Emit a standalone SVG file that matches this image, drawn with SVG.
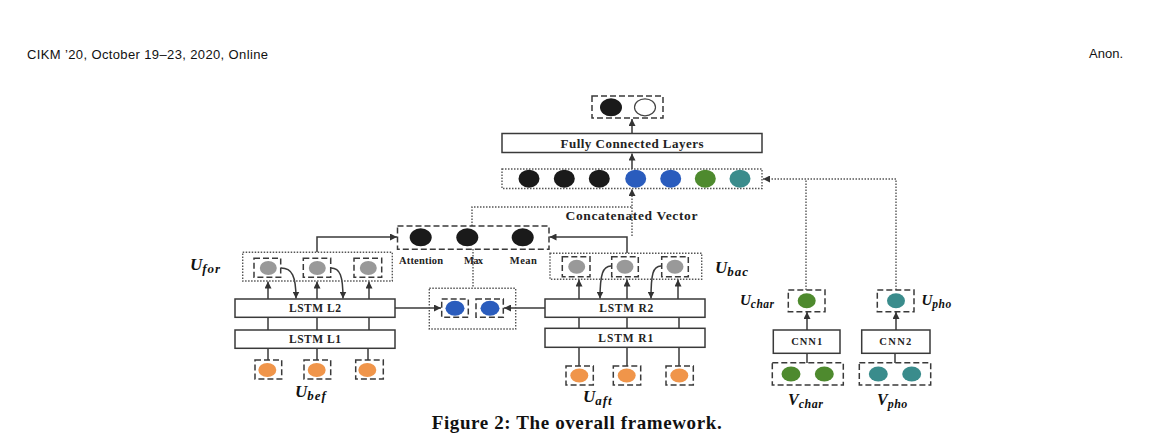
<svg xmlns="http://www.w3.org/2000/svg" width="1159" height="448" viewBox="0 0 1159 448">
<style>
.box{fill:#fff;stroke:#3a3a3a;stroke-width:1.5}
.dash{fill:none;stroke:#3a3a3a;stroke-width:1.5;stroke-dasharray:6 3}
.dot{fill:none;stroke:#555;stroke-width:1.4;stroke-dasharray:1.5 1.5}
.ln{fill:none;stroke:#3a3a3a;stroke-width:1.5}
.lbl{font-family:"Liberation Serif",serif;font-weight:bold;fill:#222;text-anchor:middle}
.math{font-family:"Liberation Serif",serif;font-style:italic;font-weight:bold;fill:#111}
.blk{fill:#1a1a1a}.gry{fill:#999}.org{fill:#f0954a}.blu{fill:#2a5cbd}.grn{fill:#4e8a2e}.tea{fill:#3a8c8c}
</style>
<defs>
<marker id="ah" viewBox="0 0 10 10" refX="10" refY="5" markerWidth="7" markerHeight="7" markerUnits="userSpaceOnUse" orient="auto">
<path d="M0,0 L10,5 L0,10 z" fill="#333"/>
</marker>
</defs>
<rect width="1159" height="448" fill="#fff"/>
<text x="27" y="58.5" font-family="Liberation Sans,sans-serif" font-size="13" textLength="241" fill="#111">CIKM ’20, October 19–23, 2020, Online</text>
<text x="1123" y="58" font-family="Liberation Sans,sans-serif" font-size="13" text-anchor="end" fill="#111">Anon.</text>

<g id="connectors">
<line class="ln" x1="632" y1="133" x2="632" y2="119" marker-end="url(#ah)"/>
<line class="ln" x1="632" y1="169" x2="632" y2="153.5" marker-end="url(#ah)"/>
<path class="dot" d="M472,226 V207 H632"/>
<path class="dot" d="M632,236 V189" marker-end="url(#ah)"/>
<path class="ln" d="M317,252 V237 H397" marker-end="url(#ah)"/>
<path class="ln" d="M627,253 V237 H549.5" marker-end="url(#ah)"/>
<line class="dot" x1="473" y1="249" x2="473" y2="288"/>
<line class="ln" x1="395" y1="308" x2="441" y2="308" marker-end="url(#ah)"/>
<line class="ln" x1="545" y1="308" x2="504" y2="308" marker-end="url(#ah)"/>
<line class="ln" x1="268" y1="299" x2="268" y2="281.5" marker-end="url(#ah)"/>
<line class="ln" x1="317" y1="299" x2="317" y2="281.5" marker-end="url(#ah)"/>
<line class="ln" x1="369" y1="299" x2="369" y2="281.5" marker-end="url(#ah)"/>
<path class="ln" d="M281,268 C292,268 296,276 296,298.5" marker-end="url(#ah)"/>
<path class="ln" d="M331,268 C340,268 343,276 343,298.5" marker-end="url(#ah)"/>
<path class="ln" d="M268,317 V330 M317,317 V330 M369,317 V330"/>
<path class="ln" d="M268,348 V360 M317,348 V360 M368,348 V360"/>
<line class="ln" x1="579" y1="299" x2="579" y2="279.5" marker-end="url(#ah)"/>
<line class="ln" x1="627" y1="299" x2="627" y2="279.5" marker-end="url(#ah)"/>
<line class="ln" x1="678" y1="299" x2="678" y2="279.5" marker-end="url(#ah)"/>
<path class="ln" d="M611,266 C603,266 600,274 600,298.5" marker-end="url(#ah)"/>
<path class="ln" d="M661,266 C653,266 651,274 651,298.5" marker-end="url(#ah)"/>
<path class="ln" d="M579,317 V328 M627,317 V328 M679,317 V328"/>
<path class="ln" d="M579,347 V366 M627,347 V366 M679,347 V366"/>
<line class="ln" x1="807" y1="330" x2="807" y2="312" marker-end="url(#ah)"/>
<line class="ln" x1="896" y1="330" x2="896" y2="312" marker-end="url(#ah)"/>
<line class="ln" x1="807" y1="363" x2="807" y2="353"/>
<line class="ln" x1="895" y1="363" x2="895" y2="353"/>
<path class="dot" d="M806,290 V179"/>
<path class="dot" d="M896,290 V179 H763" marker-end="url(#ah)"/>
</g>

<g id="output">
<rect class="dash" x="592" y="96" width="71" height="22"/>
<ellipse class="blk" cx="611" cy="107.3" rx="11" ry="9"/>
<ellipse cx="645" cy="107.3" rx="10.5" ry="8.5" fill="#fff" stroke="#444" stroke-width="1.2"/>
</g>
<g id="fc">
<rect class="box" x="502" y="133.5" width="260" height="19"/>
<text class="lbl" x="632" y="147.5" font-size="13" textLength="143">Fully Connected Layers</text>
</g>
<g id="concat">
<rect class="dot" x="502" y="169" width="260" height="19.5"/>
<ellipse class="blk" cx="529" cy="178.7" rx="10.5" ry="9"/>
<ellipse class="blk" cx="564.3" cy="178.7" rx="10.5" ry="9"/>
<ellipse class="blk" cx="599.3" cy="178.7" rx="10.5" ry="9"/>
<ellipse class="blu" cx="635.7" cy="178.7" rx="10.5" ry="9"/>
<ellipse class="blu" cx="670.7" cy="178.7" rx="10.5" ry="9"/>
<ellipse class="grn" cx="705.3" cy="178.7" rx="10.5" ry="9"/>
<ellipse class="tea" cx="740" cy="178.7" rx="10.5" ry="9"/>
<text class="lbl" x="631.5" y="219.5" font-size="13.5" textLength="132">Concatenated Vector</text>
</g>
<g id="pooling">
<rect class="dash" x="397.5" y="226" width="151.5" height="23.3"/>
<ellipse class="blk" cx="420.7" cy="237.3" rx="11" ry="9"/>
<ellipse class="blk" cx="467.3" cy="237.3" rx="11" ry="9"/>
<ellipse class="blk" cx="522.7" cy="237.3" rx="11" ry="9"/>
<text class="lbl" x="421" y="263.5" font-size="10.5" textLength="44">Attention</text>
<text class="lbl" x="473.5" y="263.5" font-size="10.5" textLength="19">Max</text>
<text class="lbl" x="523.3" y="263.5" font-size="10.5" textLength="27">Mean</text>
</g>
<g id="ufor">
<rect class="dot" x="242.7" y="252.3" width="149.6" height="28.7"/>
<rect class="dash" x="254" y="258.3" width="26.7" height="19"/>
<rect class="dash" x="303.3" y="258.3" width="27.4" height="19"/>
<rect class="dash" x="354" y="258.3" width="27.7" height="19"/>
<ellipse class="gry" cx="268.3" cy="268" rx="8.5" ry="7"/>
<ellipse class="gry" cx="317.3" cy="268" rx="8.5" ry="7"/>
<ellipse class="gry" cx="368.3" cy="268" rx="8.5" ry="7"/>
<text class="math" x="190" y="270" font-size="17">U<tspan font-size="13" dy="3" letter-spacing="1">for</tspan></text>
</g>
<g id="lstm-l2">
<rect class="box" x="235" y="299" width="160" height="18.3"/>
<text class="lbl" x="315" y="311.5" font-size="11.5" textLength="52">LSTM L2</text>
</g>
<g id="lstm-l1">
<rect class="box" x="235" y="330" width="160" height="18.3"/>
<text class="lbl" x="315" y="342.5" font-size="11.5" textLength="52">LSTM L1</text>
</g>
<g id="ubef">
<rect class="dash" x="255" y="360" width="26.7" height="19"/>
<rect class="dash" x="304" y="360" width="26.7" height="19"/>
<rect class="dash" x="355.7" y="360" width="27.6" height="19"/>
<ellipse class="org" cx="267.3" cy="370" rx="9" ry="7"/>
<ellipse class="org" cx="316.7" cy="370" rx="9" ry="7"/>
<ellipse class="org" cx="367.3" cy="370" rx="9" ry="7"/>
<text class="math" x="295" y="397" font-size="17">U<tspan font-size="13" dy="3" letter-spacing="1">bef</tspan></text>
</g>
<g id="blue-pair">
<rect class="dot" x="429.3" y="288.3" width="86.4" height="40.7"/>
<rect class="dash" x="441.7" y="299" width="26.6" height="18.3"/>
<rect class="dash" x="476" y="299" width="27.3" height="18.3"/>
<ellipse class="blu" cx="455" cy="308.3" rx="9.5" ry="7.5"/>
<ellipse class="blu" cx="490" cy="308.3" rx="9.5" ry="7.5"/>
</g>
<g id="ubac">
<rect class="dot" x="550" y="253.3" width="151.7" height="26"/>
<rect class="dash" x="562.3" y="256.7" width="27.7" height="20"/>
<rect class="dash" x="611.7" y="256.7" width="26.6" height="20"/>
<rect class="dash" x="661.7" y="256.7" width="26.6" height="20"/>
<ellipse class="gry" cx="576.7" cy="266.7" rx="8.5" ry="7"/>
<ellipse class="gry" cx="625" cy="266.7" rx="8.5" ry="7"/>
<ellipse class="gry" cx="675" cy="266.7" rx="8.5" ry="7"/>
<text class="math" x="715" y="273" font-size="17">U<tspan font-size="13" dy="3" letter-spacing="1">bac</tspan></text>
</g>
<g id="lstm-r2">
<rect class="box" x="545" y="299" width="160" height="18.3"/>
<text class="lbl" x="626.3" y="311.5" font-size="11.5" textLength="54">LSTM R2</text>
</g>
<g id="lstm-r1">
<rect class="box" x="545" y="328.3" width="160" height="19"/>
<text class="lbl" x="625.8" y="341.5" font-size="11.5" textLength="55">LSTM R1</text>
</g>
<g id="uaft">
<rect class="dash" x="566" y="366" width="27.3" height="19"/>
<rect class="dash" x="613.3" y="366" width="27.4" height="19"/>
<rect class="dash" x="666" y="366" width="27.3" height="19"/>
<ellipse class="org" cx="579.3" cy="375.5" rx="9" ry="7"/>
<ellipse class="org" cx="626.7" cy="375.5" rx="9" ry="7"/>
<ellipse class="org" cx="679.3" cy="375.5" rx="9" ry="7"/>
<text class="math" x="583" y="402" font-size="17">U<tspan font-size="13" dy="3" letter-spacing="1">aft</tspan></text>
</g>
<g id="uchar">
<rect class="dash" x="788.3" y="290" width="36.7" height="21.7"/>
<ellipse class="grn" cx="806.7" cy="300.7" rx="9" ry="7.5"/>
<text class="math" x="740" y="305" font-size="15">U<tspan font-size="11.5" dy="2.5" letter-spacing="0.5">char</tspan></text>
</g>
<g id="upho">
<rect class="dash" x="877.3" y="290" width="36.7" height="21.7"/>
<ellipse class="tea" cx="896" cy="300.7" rx="9" ry="7.5"/>
<text class="math" x="921.5" y="305" font-size="15">U<tspan font-size="11.5" dy="2.5" letter-spacing="0.5">pho</tspan></text>
</g>
<g id="cnn1">
<rect class="box" x="773.3" y="330" width="66.7" height="23.3"/>
<text class="lbl" x="806.7" y="345" font-size="10.5" textLength="31">CNN1</text>
</g>
<g id="cnn2">
<rect class="box" x="861.7" y="330" width="68.3" height="23.3"/>
<text class="lbl" x="895.3" y="345" font-size="10.5" textLength="32">CNN2</text>
</g>
<g id="vchar">
<rect class="dash" x="772.3" y="362.7" width="71" height="22.3"/>
<ellipse class="grn" cx="791" cy="374" rx="9.5" ry="7.5"/>
<ellipse class="grn" cx="824.3" cy="374" rx="9.5" ry="7.5"/>
<text class="math" x="788" y="405" font-size="16">V<tspan font-size="12" dy="2.5" letter-spacing="0.5">char</tspan></text>
</g>
<g id="vpho">
<rect class="dash" x="859.3" y="362.7" width="71.4" height="22.3"/>
<ellipse class="tea" cx="878.3" cy="374" rx="9.5" ry="7.5"/>
<ellipse class="tea" cx="911.7" cy="374" rx="9.5" ry="7.5"/>
<text class="math" x="877" y="405" font-size="16">V<tspan font-size="12" dy="2.5" letter-spacing="0.5">pho</tspan></text>
</g>
<text x="576.7" y="429" font-family="Liberation Serif,serif" font-weight="bold" font-size="19" text-anchor="middle" textLength="290" fill="#111">Figure 2: The overall framework.</text>
</svg>
